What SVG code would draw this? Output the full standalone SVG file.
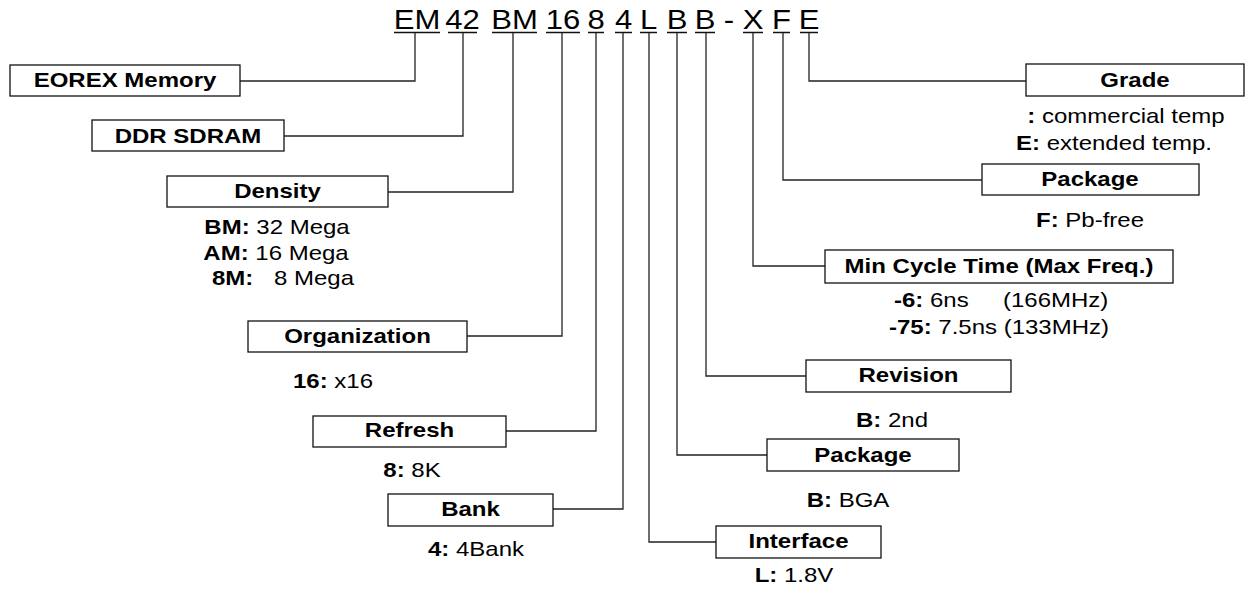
<svg xmlns="http://www.w3.org/2000/svg" width="1248" height="590" viewBox="0 0 1248 590">
<style>
text{font-family:"Liberation Sans",Arial,Helvetica,sans-serif;fill:#000}
.t{font-size:20px;font-weight:bold;text-anchor:middle}
.s{font-size:20px;text-anchor:middle}
.sl{font-size:20px;text-anchor:start}
.b{font-weight:bold}
.code{font-size:27px;text-anchor:middle}
.box{fill:#fff;stroke:#111;stroke-width:1.3}
.conn{fill:none;stroke:#222;stroke-width:1.3}
.ul{stroke:#111;stroke-width:1.6}
</style>
<rect width="1248" height="590" fill="#fff"/>
<g id="part-number">
<text class="code" transform="translate(417 29) scale(1.15 1)">EM</text>
<text class="code" transform="translate(462.5 29) scale(1.15 1)">42</text>
<text class="code" transform="translate(514.5 29) scale(1.15 1)">BM</text>
<text class="code" transform="translate(563 29) scale(1.15 1)">16</text>
<text class="code" transform="translate(596 29) scale(1.15 1)">8</text>
<text class="code" transform="translate(623.5 29) scale(1.15 1)">4</text>
<text class="code" transform="translate(648.5 29) scale(1.15 1)">L</text>
<text class="code" transform="translate(677 29) scale(1.15 1)">B</text>
<text class="code" transform="translate(705 29) scale(1.15 1)">B</text>
<text class="code" transform="translate(729 29) scale(1.15 1)">-</text>
<text class="code" transform="translate(753 29) scale(1.15 1)">X</text>
<text class="code" transform="translate(781.5 29) scale(1.15 1)">F</text>
<text class="code" transform="translate(809 29) scale(1.15 1)">E</text>
<path class="ul" d="M394 32.5H440M448 32.5H477M492 32.5H537M546 32.5H580M588 32.5H604M615 32.5H632M640 32.5H657M667 32.5H687M695 32.5H715M743 32.5H763M773 32.5H790M800 32.5H818"/>
</g>
<g id="connectors">
<path class="conn" d="M415 33V81H240"/>
<path class="conn" d="M463 33V136H284"/>
<path class="conn" d="M513 33V192H388"/>
<path class="conn" d="M562 33V336H467"/>
<path class="conn" d="M596 33V431H506"/>
<path class="conn" d="M623 33V509H553"/>
<path class="conn" d="M649 33V542H716"/>
<path class="conn" d="M677 33V455H767"/>
<path class="conn" d="M706 33V376H806"/>
<path class="conn" d="M753 33V266H825"/>
<path class="conn" d="M783 33V180H982"/>
<path class="conn" d="M809 33V81H1026"/>
</g>
<g id="eorex">
<rect class="box" x="10" y="65" width="230" height="31"/>
<text class="t" transform="translate(125 87) scale(1.2 1)">EOREX Memory</text>
</g>
<g id="ddr">
<rect class="box" x="92" y="120" width="192" height="31"/>
<text class="t" transform="translate(188 143) scale(1.2 1)">DDR SDRAM</text>
</g>
<g id="density">
<rect class="box" x="167" y="176" width="221" height="31"/>
<text class="t" transform="translate(277.5 198) scale(1.2 1)">Density</text>
<text class="s" transform="translate(277 234) scale(1.2 1)"><tspan class="b">BM:</tspan> 32 Mega</text>
<text class="s" transform="translate(276 260) scale(1.2 1)"><tspan class="b">AM:</tspan> 16 Mega</text>
<text class="sl b" transform="translate(212 285) scale(1.2 1)">8M:</text>
<text class="sl" transform="translate(274 285) scale(1.2 1)">8 Mega</text>
</g>
<g id="organization">
<rect class="box" x="248" y="321" width="219" height="31"/>
<text class="t" transform="translate(357.5 343) scale(1.2 1)">Organization</text>
<text class="sl" transform="translate(293 388) scale(1.2 1)"><tspan class="b">16:</tspan> x16</text>
</g>
<g id="refresh">
<rect class="box" x="313" y="416" width="193" height="31"/>
<text class="t" transform="translate(409.5 437) scale(1.2 1)">Refresh</text>
<text class="s" transform="translate(412 477) scale(1.2 1)"><tspan class="b">8:</tspan> 8K</text>
</g>
<g id="bank">
<rect class="box" x="388" y="494" width="165" height="32"/>
<text class="t" transform="translate(470.5 516) scale(1.2 1)">Bank</text>
<text class="s" transform="translate(476 556) scale(1.2 1)"><tspan class="b">4:</tspan> 4Bank</text>
</g>
<g id="interface">
<rect class="box" x="716" y="526" width="165" height="32"/>
<text class="t" transform="translate(798.5 548) scale(1.2 1)">Interface</text>
<text class="s" transform="translate(794 582) scale(1.2 1)"><tspan class="b">L:</tspan> 1.8V</text>
</g>
<g id="package-b">
<rect class="box" x="767" y="439" width="192" height="32"/>
<text class="t" transform="translate(863 462) scale(1.2 1)">Package</text>
<text class="s" transform="translate(848 507) scale(1.2 1)"><tspan class="b">B:</tspan> BGA</text>
</g>
<g id="revision">
<rect class="box" x="806" y="360" width="205" height="32"/>
<text class="t" transform="translate(908.5 382) scale(1.2 1)">Revision</text>
<text class="s" transform="translate(892 427) scale(1.2 1)"><tspan class="b">B:</tspan> 2nd</text>
</g>
<g id="min-cycle">
<rect class="box" x="825" y="250" width="348" height="33"/>
<text class="t" transform="translate(999 273) scale(1.2 1)">Min Cycle Time (Max Freq.)</text>
<text class="sl" transform="translate(894 307) scale(1.2 1)"><tspan class="b">-6:</tspan> 6ns</text>
<text class="sl" transform="translate(1003 307) scale(1.2 1)">(166MHz)</text>
<text class="sl" transform="translate(889 334) scale(1.2 1)"><tspan class="b">-75:</tspan> 7.5ns (133MHz)</text>
</g>
<g id="package-f">
<rect class="box" x="982" y="164" width="217" height="31"/>
<text class="t" transform="translate(1090 186) scale(1.2 1)">Package</text>
<text class="s" transform="translate(1090 227) scale(1.2 1)"><tspan class="b">F:</tspan> Pb-free</text>
</g>
<g id="grade">
<rect class="box" x="1026" y="64" width="218" height="32"/>
<text class="t" transform="translate(1135 87) scale(1.2 1)">Grade</text>
<text class="s" transform="translate(1126 123) scale(1.2 1)"><tspan class="b">:</tspan> commercial temp</text>
<text class="s" transform="translate(1114 150) scale(1.2 1)"><tspan class="b">E:</tspan> extended temp.</text>
</g>
</svg>
